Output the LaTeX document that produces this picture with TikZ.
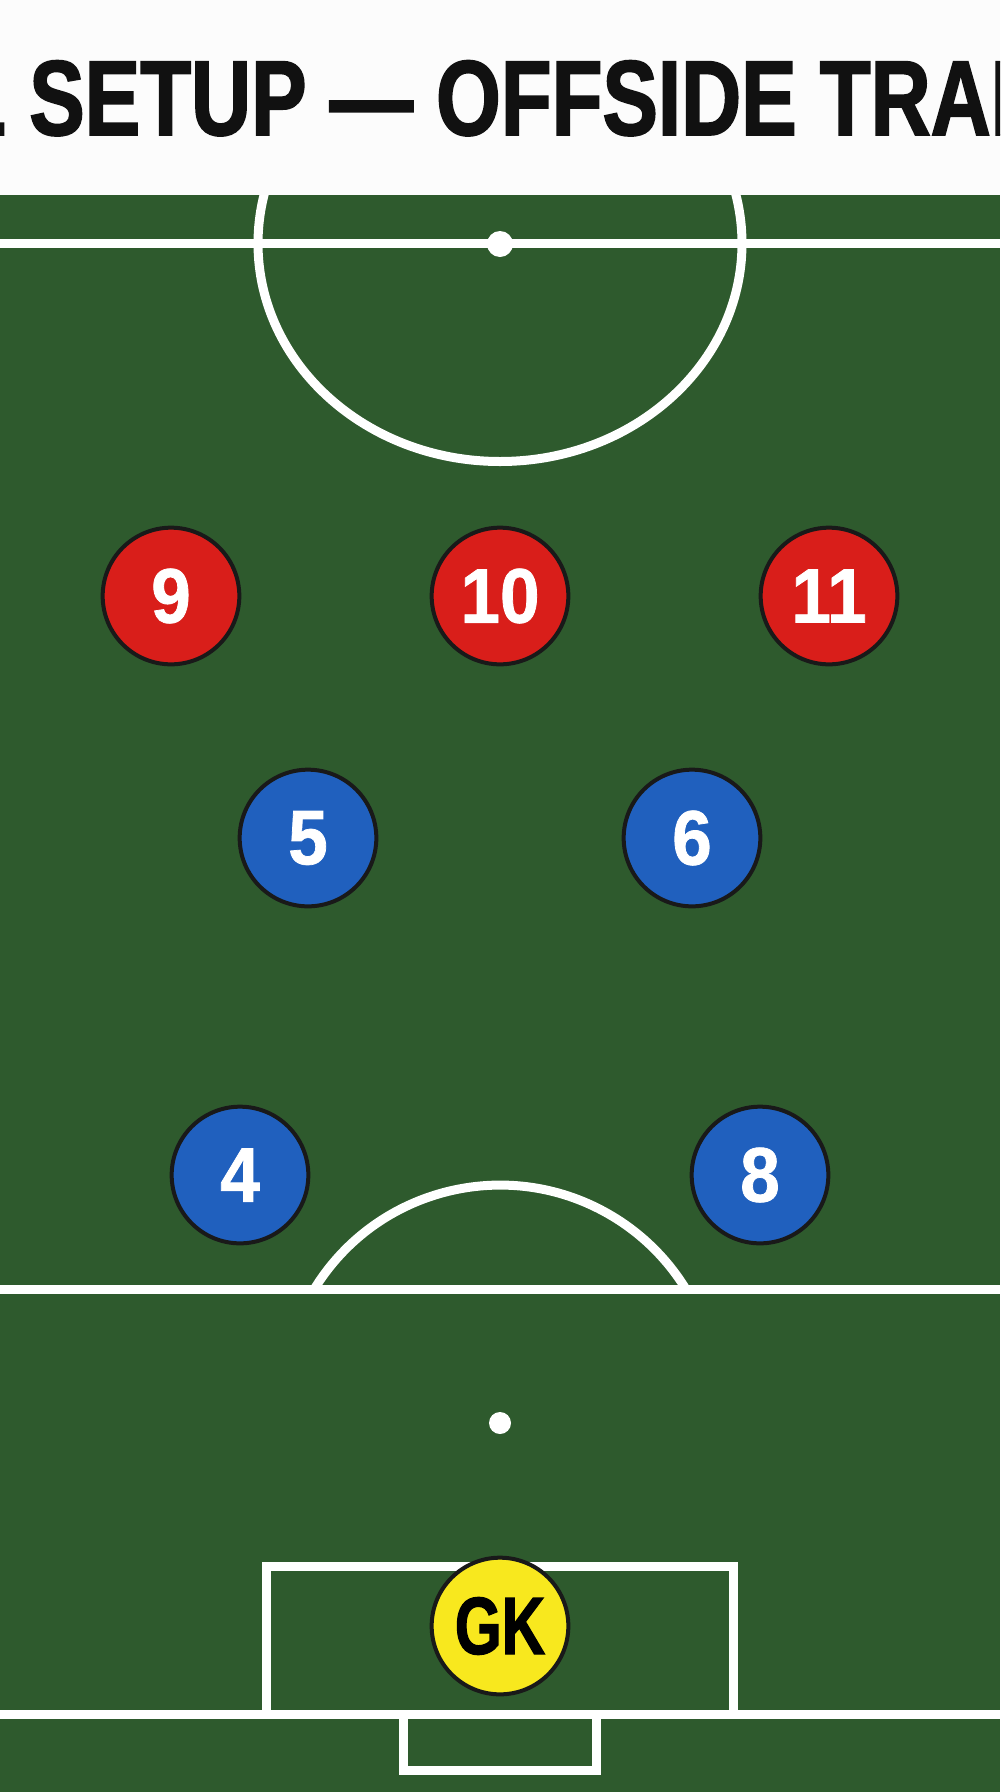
\documentclass[tikz,border=0pt]{standalone}
\usepackage{fontspec}
\setmainfont{Liberation Sans}
\newfontfamily\titlefont[FakeStretch=0.78,FakeBold=1.6]{Liberation Sans}
\newfontfamily\numfont[FakeStretch=0.92,FakeBold=1]{Liberation Sans}
\newfontfamily\gkfont[FakeStretch=0.74,FakeBold=1.4]{Liberation Sans}
\usepackage{tikz}
\usetikzlibrary{arrows.meta}
\usepackage{xcolor}

\definecolor{pitchgreen}{RGB}{46,90,45}
\definecolor{redteam}{RGB}{217,30,26}
\definecolor{blueteam}{RGB}{32,96,190}
\definecolor{keeper}{RGB}{248,232,30}
\definecolor{titleink}{RGB}{17,17,17}

\tikzset{
  pitchline/.style={draw=white, line width=6.75pt},
  player/.style={circle, draw=black!90, line width=3pt, minimum size=102.5pt, inner sep=0pt,
    font=\numfont\bfseries\fontsize{58}{58}\selectfont},
  red player/.style={player, fill=redteam, text=white},
  blue player/.style={player, fill=blueteam, text=white},
  gk player/.style={player, fill=keeper, text=black, font=\gkfont\bfseries\fontsize{61}{61}\selectfont}
}

\begin{document}
\begin{tikzpicture}[x=0.75pt,y=0.75pt,yscale=-1,xscale=1]
\useasboundingbox (0,0) rectangle (1000,1792);
\clip (0,0) rectangle (1000,1792);

%Shape: Rectangle [pitch]
\fill [pitchgreen] (0,0) rectangle (1000,1792);

%Straight Lines [halfway line]
\draw [pitchline] (0,243.5) -- (1000,243.5);
%Shape: Ellipse [centre circle]
\draw [pitchline] (500,243.5) ellipse [x radius=242, y radius=218];
%Shape: Circle [centre spot]
\fill [white] (500,244) circle [radius=13];

%Straight Lines [penalty line]
\draw [pitchline] (0,1289.5) -- (1000,1289.5);
%Shape: Arc [penalty arc]
\draw [pitchline] (314,1289.5) arc [start angle=211.4, end angle=328.6, radius=218];
%Shape: Circle [penalty spot]
\fill [white] (500,1423) circle [radius=11];

%Shape: Rectangle [goal area]
\draw [pitchline] (266.5,1714) -- (266.5,1566.5) -- (733.5,1566.5) -- (733.5,1714);
%Straight Lines [goal line]
\draw [pitchline] (0,1714) -- (1000,1714);
%Shape: Rectangle [goal]
\draw [pitchline] (403.5,1714) -- (403.5,1770) -- (596.5,1770) -- (596.5,1714);

%Shape: Rectangle [title band]
\fill [white!99!black] (0,0) rectangle (1000,195);
% Text Node
\node [anchor=base west, inner sep=0pt, text=titleink] (title) at (29,135)
  {\titlefont\bfseries\fontsize{80}{80}\selectfont\llap{INITIAL }SETUP — OFFSIDE TRAP};

% Attackers
\node [red player] (p9) at (171,596) {9};
\node [red player] (p10) at (500,596) {10};
\node [red player] (p11) at (829,596) {11};

% Defenders
\node [blue player] (p5) at (308,838) {5};
\node [blue player] (p6) at (692,838) {6};
\node [blue player] (p4) at (240,1175) {4};
\node [blue player] (p8) at (760,1175) {8};

% Goalkeeper
\node [gk player] (gk) at (500,1626) {GK};

\end{tikzpicture}
\end{document}
